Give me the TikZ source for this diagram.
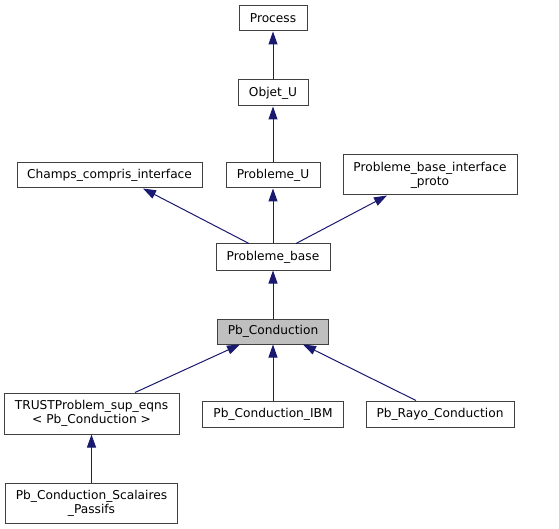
\documentclass[tikz,border=0pt]{standalone}
\usepackage{fontspec}
\setmainfont{DejaVu Sans}
\usetikzlibrary{arrows.meta,calc}
\definecolor{edgeblue}{HTML}{191970}
\definecolor{nodegray}{HTML}{BFBFBF}
\begin{document}
\begin{tikzpicture}[x=1pt,y=-1pt,
  box/.style={draw=black!75, line width=1pt, fill=white, inner sep=0pt, align=center,
    font=\fontsize{12.2}{14.3}\selectfont},
  edge/.style={draw=edgeblue, line width=1pt, -{Triangle[length=13pt,width=9pt]}}]
\useasboundingbox (0,0) rectangle (559,529);
\node[box, minimum width=68pt, minimum height=25pt] (process) at (273,18.5) {Process};
\node[box, minimum width=70pt, minimum height=26pt] (objet) at (273,93) {Objet\_U};
\node[box, minimum width=185pt, minimum height=25pt] (champs) at (109.5,175.5) {Champs\_compris\_interface};
\node[box, minimum width=94pt, minimum height=25pt] (probu) at (273,175.5) {Probleme\_U};
\node[box, minimum width=174pt, minimum height=40pt] (pbip) at (430,175) {Probleme\_base\_interface\\\_proto};
\node[box, minimum width=114pt, minimum height=26pt] (pbase) at (273,257) {Probleme\_base};
\node[box, fill=nodegray, minimum width=111pt, minimum height=25pt] (pbc) at (273,331.5) {Pb\_Conduction};
\node[box, minimum width=175pt, minimum height=41pt] (trust) at (91.5,413.5) {TRUSTProblem\_sup\_eqns\\< Pb\_Conduction >};
\node[box, minimum width=141pt, minimum height=26pt] (ibm) at (273,414) {Pb\_Conduction\_IBM};
\node[box, minimum width=148pt, minimum height=26pt] (rayo) at (440,414) {Pb\_Rayo\_Conduction};
\node[box, minimum width=172pt, minimum height=40pt] (scal) at (91.5,503) {Pb\_Conduction\_Scalaires\\\_Passifs};

\draw[edge] (objet) -- (process);
\draw[edge] (probu) -- (objet);
\draw[edge] (pbase) -- (probu);
\draw[edge] ([xshift=-24pt]pbase.north) -- ([xshift=33.5pt]champs.south);
\draw[edge] ([xshift=23pt]pbase.north) -- ([xshift=-43pt]pbip.south);
\draw[edge] (pbc) -- (pbase);
\draw[edge] ([xshift=43.5pt]trust.north) -- ([xshift=-33pt]pbc.south);
\draw[edge] (ibm) -- (pbc);
\draw[edge] ([xshift=-24pt]rayo.north) -- ([xshift=30pt]pbc.south);
\draw[edge] (scal) -- (trust);
\end{tikzpicture}
\end{document}
